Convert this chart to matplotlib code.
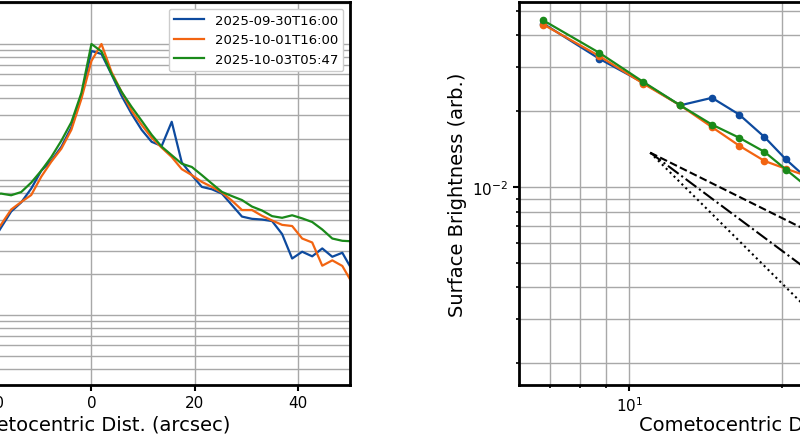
import matplotlib
matplotlib.use("Agg")
import matplotlib.pyplot as plt

# epochs
labels = ["2025-09-30T16:00", "2025-10-01T16:00", "2025-10-03T05:47"]
colors = ["#0d4a9e", "#f26411", "#1a8a1a"]

# left panel: cut profile through the nucleus (arcsec vs. normalised brightness)
cut_x = [-19.4, -17.46, -15.52, -13.58, -11.64, -9.7, -7.76, -5.82, -3.88, -1.94,
         0.0, 1.94, 3.88, 5.82, 7.76, 9.7, 11.64, 13.58, 15.52, 17.46,
         19.4, 21.34, 23.28, 25.22, 27.16, 29.1, 31.04, 32.98, 34.92, 36.86,
         38.8, 40.74, 42.68, 44.62, 46.56, 48.5, 50.44]
cut_0930 = [0.0337, 0.0444, 0.0582, 0.0679, 0.0859, 0.1164, 0.138, 0.1745, 0.243, 0.411,
            0.888, 0.844, 0.597, 0.415, 0.3056, 0.233, 0.190, 0.177, 0.267, 0.134,
            0.108, 0.0884, 0.0849, 0.0789, 0.0649, 0.0534, 0.0514, 0.0508, 0.0495, 0.0397,
            0.0262, 0.0294, 0.0272, 0.0311, 0.0270, 0.0289, 0.0214]
cut_1001 = [0.0368, 0.0467, 0.0602, 0.0684, 0.0770, 0.1052, 0.1356, 0.169, 0.233, 0.394,
            0.750, 1.0, 0.622, 0.444, 0.322, 0.2537, 0.2036, 0.172, 0.1468, 0.1195,
            0.108, 0.0962, 0.0884, 0.0803, 0.0700, 0.0597, 0.0597, 0.0541, 0.0500, 0.0464,
            0.0455, 0.0368, 0.0344, 0.0232, 0.0254, 0.0231, 0.0172]
cut_1003 = [0.0776, 0.0789, 0.0767, 0.0810, 0.0951, 0.1164, 0.1468, 0.1935, 0.265, 0.436,
            1.0, 0.881, 0.602, 0.444, 0.344, 0.272, 0.214, 0.175, 0.1514, 0.131,
            0.124, 0.108, 0.0935, 0.0812, 0.0756, 0.0707, 0.0633, 0.0592, 0.0538, 0.0523,
            0.0546, 0.0518, 0.0487, 0.0429, 0.0368, 0.0354, 0.0351]

# right panel: azimuthally averaged surface brightness
rad_x = [6.78, 8.73, 10.67, 12.6, 14.55, 16.46, 18.46, 20.35, 22.3]
rad_0930 = [0.0445, 0.0323, 0.0259, 0.0211, 0.0226, 0.0194, 0.0158, 0.01287, 0.0109]
rad_1001 = [0.0441, 0.0331, 0.0257, 0.0211, 0.0173, 0.0146, 0.0127, 0.01182, 0.0111]
rad_1003 = [0.0458, 0.0341, 0.0261, 0.0211, 0.0177, 0.0157, 0.0138, 0.01174, 0.0101]

# reference power laws r^-1, r^-1.5, r^-2
ref_slopes = [1.0, 1.5, 2.0]
ref_styles = ["--", "-.", ":"]
ref_x = [11.0, 40.0]
ref_y0 = 0.0137

plt.rcParams["font.family"] = "DejaVu Sans"

fig = plt.figure(figsize=(8, 4.35), dpi=100)
ax1 = fig.add_axes([-0.209, 0.1126, 0.6466, 0.8805])
ax2 = fig.add_axes([0.64875, 0.1126, 0.6490, 0.8805])


def style(ax):
    for sp in ax.spines.values():
        sp.set_linewidth(2.0)
    ax.tick_params(which="major", labelsize=11, width=1.5, length=4)
    ax.tick_params(which="minor", width=1.2, length=2.5)
    ax.grid(True, which="both", color="#a8a8a8", lw=1.0)
    ax.set_axisbelow(True)
    # same label height in both panels
    ax.xaxis.set_label_coords(0.5, -0.077)


cuts = [cut_0930, cut_1001, cut_1003]
for y, c, lab in zip(cuts, colors, labels):
    ax1.plot(cut_x, y, color=c, lw=1.6, label=lab)
ax1.set_yscale("log")
ax1.set_xlim(-50, 50)
ax1.set_ylim(0.00306, 2.04)
ax1.set_xticks([-40, -20, 0, 20, 40])
ax1.set_xlabel("Cometocentric Dist. (arcsec)", fontsize=14)
style(ax1)
ax1.legend(loc="upper right", fontsize=9.5, handlelength=2.3, framealpha=1.0)

rads = [rad_0930, rad_1001, rad_1003]
for y, c in zip(rads, colors):
    ax2.plot(rad_x, y, color=c, lw=1.6, marker="o", ms=4.5)
for p, ls in zip(ref_slopes, ref_styles):
    ref_y = [ref_y0 * (xx / ref_x[0]) ** (-p) for xx in ref_x]
    ax2.plot(ref_x, ref_y, color="black", ls=ls, lw=1.5)
ax2.set_xscale("log")
ax2.set_yscale("log")
ax2.set_xlim(6.07, 63.8)
ax2.set_ylim(0.001642, 0.0542)
ax2.set_xlabel("Cometocentric Dist. (arcsec)", fontsize=14)
ax2.set_ylabel("Surface Brightness (arb.)", fontsize=14)
style(ax2)

fig.savefig("out.png", dpi=100)
